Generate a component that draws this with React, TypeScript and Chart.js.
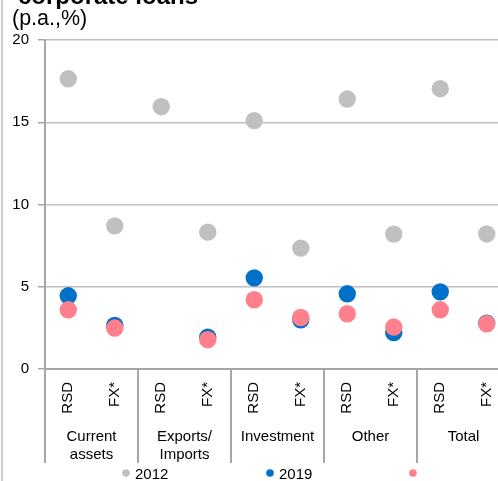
import React, { useEffect, useRef } from 'react';
import { Chart, registerables } from 'chart.js';

Chart.register(...registerables);

const titleText = 'corporate loans';
const unitText = '(p.a.,%)';
const tickLabels = ['RSD', 'FX*', 'RSD', 'FX*', 'RSD', 'FX*', 'RSD', 'FX*', 'RSD', 'FX*'];
const groupLabels: (string | string[])[] = [['Current', 'assets'], ['Exports/', 'Imports'], 'Investment', 'Other', 'Total'];
const seriesNames = ['2012', '2019', ''];
const values2012 = [17.64, 8.7, 15.95, 8.32, 15.1, 7.35, 16.41, 8.2, 17.04, 8.21];
const values2019 = [4.45, 2.65, null, 1.94, 5.54, 2.99, 4.57, 2.22, 4.69, 2.79];
const valuesThird = [3.6, 2.49, null, 1.78, 4.21, 3.13, 3.36, 2.55, 3.6, 2.75];
const seriesColors = ['#c0c0c0', '#0070c8', '#ff808c'];

const FONT = '"Liberation Sans", Arial, sans-serif';

const overlayPlugin = {
  id: 'overlayText',
  afterDraw(chart: any) {
    const ctx = chart.ctx;
    ctx.save();
    ctx.fillStyle = '#000';
    ctx.textAlign = 'left';
    ctx.textBaseline = 'alphabetic';
    ctx.font = `bold 24px ${FONT}`;
    ctx.fillText(titleText, 18, 4);
    ctx.font = `21.5px ${FONT}`;
    ctx.fillText(unitText, 12, 25);
    // legend
    const legendX = [126, 270, 413];
    const legendY = 473;
    ctx.font = `15px ${FONT}`;
    ctx.textBaseline = 'middle';
    chart.data.datasets.forEach((ds: any, i: number) => {
      ctx.beginPath();
      ctx.fillStyle = ds.backgroundColor;
      ctx.arc(legendX[i], legendY, 3.8, 0, Math.PI * 2);
      ctx.fill();
      ctx.fillStyle = '#000';
      if (ds.label) ctx.fillText(ds.label, legendX[i] + 9, legendY + 1.5);
    });
    ctx.restore();
  },
};

export default function App() {
  const canvasRef = useRef<HTMLCanvasElement | null>(null);

  useEffect(() => {
    document.body.style.margin = '0';
    const canvas = canvasRef.current;
    if (!canvas) return;
    const dataArrays = [values2012, values2019, valuesThird];
    const chart = new Chart(canvas, {
      type: 'line',
      data: {
        labels: tickLabels,
        datasets: dataArrays.map((arr, i) => ({
          label: seriesNames[i],
          data: arr as any,
          order: 2 - i,
          showLine: false,
          backgroundColor: seriesColors[i],
          borderColor: seriesColors[i],
          pointBackgroundColor: seriesColors[i],
          pointBorderWidth: 0,
          pointRadius: 8.7,
          pointHoverRadius: 8.7,
          xAxisID: 'x',
          yAxisID: 'y',
        })),
      },
      options: {
        responsive: false,
        animation: false,
        events: [],
        layout: { padding: { top: 40, left: 0, right: 10, bottom: 0 } },
        plugins: {
          legend: { display: false },
          title: { display: false },
          tooltip: { enabled: false },
        },
        scales: {
          x: {
            type: 'category',
            position: 'bottom',
            offset: true,
            afterFit: (s: any) => { s.height = 55; },
            grid: {
              display: true,
              offset: true,
              drawOnChartArea: false,
              drawTicks: true,
              tickLength: 94,
              lineWidth: 2,
              color: (c: any) => (c.index % 2 === 0 ? '#a6a6a6' : 'rgba(0,0,0,0)'),
            },
            border: { display: true, color: '#a6a6a6', width: 2 },
            ticks: {
              autoSkip: false,
              minRotation: 90,
              maxRotation: 90,
              padding: -81,
              color: '#000',
              font: { family: FONT, size: 15 },
            },
          },
          x2: {
            type: 'category',
            position: 'bottom',
            labels: groupLabels as any,
            offset: true,
            afterFit: (s: any) => { s.height = 57; },
            grid: { display: false },
            border: { display: false },
            ticks: {
              autoSkip: false,
              minRotation: 0,
              maxRotation: 0,
              padding: -4.5,
              color: '#000',
              font: { family: FONT, size: 15, lineHeight: 1.2 },
            },
          },
          y: {
            type: 'linear',
            min: 0,
            max: 20,
            afterFit: (s: any) => { s.width = 45; },
            grid: {
              color: '#c0c0c0',
              lineWidth: 1.5,
              tickLength: 7,
              tickColor: '#a6a6a6',
            },
            border: { display: true, color: '#a6a6a6', width: 2 },
            ticks: {
              stepSize: 5,
              padding: 9,
              color: '#000',
              font: { family: FONT, size: 15 },
            },
          },
        },
      },
      plugins: [overlayPlugin],
    });
    return () => chart.destroy();
  }, []);

  return (
    <div style={{ position: 'relative', width: 498, height: 481, overflow: 'hidden', background: '#fff' }}>
      <canvas ref={canvasRef} width={520} height={481} style={{ position: 'absolute', left: 0, top: 0 }} />
      <div style={{ position: 'absolute', left: 1, top: 0, width: 2, height: 481, background: '#cfcfcf' }} />
    </div>
  );
}
